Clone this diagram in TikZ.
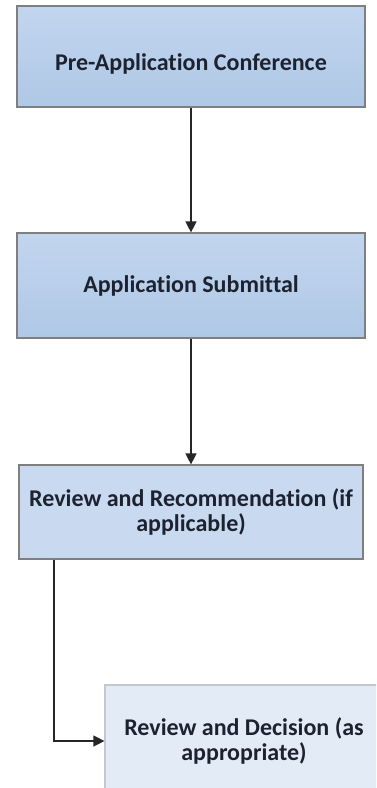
\documentclass[tikz,border=0pt]{standalone}
\usepackage{fontspec}
\setmainfont[Ligatures=NoCommon]{Carlito}
\usetikzlibrary{arrows.meta}
\definecolor{edgegray}{HTML}{7F7F7F}
\definecolor{lightedge}{HTML}{C4C8CE}
\definecolor{blueA}{HTML}{C2D5EE}
\definecolor{blueB}{HTML}{AFC8E6}
\definecolor{blueC}{HTML}{C9DAF0}
\definecolor{blueD}{HTML}{E3EBF6}
\definecolor{inktext}{HTML}{1C2230}
\tikzset{
  stepbox/.style={draw=edgegray, line width=1.2pt, rectangle, align=center,
    font=\fontsize{24}{24.5}\selectfont\bfseries, text=inktext, inner sep=0pt},
  flowarrow/.style={draw=black!85, line width=1.4pt,
    -{Triangle[length=11pt,width=11pt]}}
}
\begin{document}
\begin{tikzpicture}[x=1pt,y=-1pt]
  \useasboundingbox (0,0) rectangle (376,788);
  \clip (0,0) rectangle (376,788);
  \fill[white] (0,0) rectangle (376,788);

  % process steps
  \node[stepbox, top color=blueA, bottom color=blueB,
        text height=31pt, text depth=4pt,
        minimum width=348pt, minimum height=101pt] (pre) at (191,56.5)
        {Pre-Application Conference};
  \node[stepbox, top color=blueA, bottom color=blueB,
        minimum width=348pt, minimum height=105pt] (sub) at (191,285.5)
        {Application Submittal};
  \node[stepbox, fill=blueC,
        minimum width=344pt, minimum height=94pt] (rec) at (191,512)
        {Review and Recommendation (if\\applicable)};
  \node[stepbox, fill=blueD, draw=lightedge,
        minimum width=278pt, minimum height=112pt] (dec) at (244,741)
        {Review and Decision (as\\appropriate)};

  % connectors
  \coordinate (bend) at (54,0);
  \draw[flowarrow] (pre.south) -- (sub.north);
  \draw[flowarrow] (sub.south) -- (rec.north);
  \draw[flowarrow] (rec.south -| bend) |- (dec.west);
\end{tikzpicture}
\end{document}
